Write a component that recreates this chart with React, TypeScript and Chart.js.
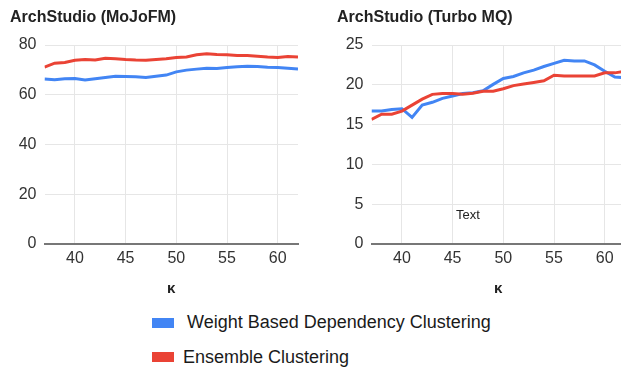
import React, { useEffect, useRef } from "react";
import { Chart, registerables } from "chart.js";

Chart.register(...registerables);

// ---- data ----
const kValues = [37, 38, 39, 40, 41, 42, 43, 44, 45, 46, 47, 48, 49, 50, 51, 52, 53, 54, 55, 56, 57, 58, 59, 60, 61, 62];
const xTickValues = [40, 45, 50, 55, 60];

const mojoWeight = [66.3, 66.0, 66.4, 66.5, 65.9, 66.4, 66.9, 67.4, 67.3, 67.2, 66.9, 67.4, 67.9, 69.2, 69.9, 70.3, 70.7, 70.6, 71.0, 71.3, 71.5, 71.4, 71.1, 71.0, 70.7, 70.4];
const mojoEnsemble = [71.1, 72.7, 73.0, 73.9, 74.2, 74.0, 74.7, 74.5, 74.2, 74.0, 73.9, 74.2, 74.5, 75.0, 75.2, 76.1, 76.5, 76.2, 76.1, 75.8, 75.8, 75.5, 75.2, 75.0, 75.4, 75.2];

const turboWeight = [16.7, 16.7, 16.9, 17.0, 15.9, 17.45, 17.8, 18.3, 18.6, 18.9, 19.0, 19.25, 20.05, 20.8, 21.05, 21.5, 21.85, 22.3, 22.7, 23.07, 23.0, 23.0, 22.5, 21.7, 20.97, 20.9];
const turboEnsemble = [15.65, 16.3, 16.3, 16.7, 17.45, 18.2, 18.8, 18.9, 18.9, 18.8, 18.95, 19.2, 19.2, 19.5, 19.9, 20.1, 20.3, 20.5, 21.2, 21.1, 21.1, 21.1, 21.1, 21.5, 21.5, 21.7];

const seriesNames = ["Weight Based Dependency Clustering", "Ensemble Clustering"];
const BLUE = "#4285f4";
const RED = "#ea4335";
const FONT = "Arial, 'Liberation Sans', sans-serif";

const textNotePlugin = {
  id: "textNote",
  afterDatasetsDraw(chart: any, _args: any, opts: any) {
    if (!opts || !opts.text) return;
    const { ctx } = chart;
    const x = chart.scales.x.getPixelForValue(opts.x);
    const y = chart.scales.y.getPixelForValue(opts.y);
    ctx.save();
    ctx.font = `13px ${FONT}`;
    ctx.fillStyle = "#222";
    ctx.textAlign = "center";
    ctx.textBaseline = "middle";
    ctx.fillText(opts.text, x, y);
    ctx.restore();
  },
};

function makeConfig(title: string, blue: number[], red: number[], yMax: number, yStep: number, note?: any): any {
  const toPts = (arr: number[]) => kValues.map((k, i) => ({ x: k, y: arr[i] }));
  return {
    type: "line",
    data: {
      datasets: [
        { label: seriesNames[0], data: toPts(blue), borderColor: BLUE, backgroundColor: BLUE, borderWidth: 3, pointRadius: 0, tension: 0, order: 1 },
        { label: seriesNames[1], data: toPts(red), borderColor: RED, backgroundColor: RED, borderWidth: 3, pointRadius: 0, tension: 0, order: 0 },
      ],
    },
    plugins: [textNotePlugin],
    options: {
      responsive: false,
      animation: false,
      layout: { padding: { left: 10, right: 2, top: 0, bottom: 0 } },
      plugins: {
        legend: { display: false },
        tooltip: { enabled: false },
        title: {
          display: true,
          text: title,
          align: "start",
          color: "#222",
          font: { family: FONT, size: 16, weight: "bold" },
          padding: { top: 8.4, bottom: 17.4 },
        },
        textNote: note || {},
      },
      scales: {
        x: {
          type: "linear",
          min: 37,
          max: 62,
          afterBuildTicks: (s: any) => {
            s.ticks = xTickValues.map((v) => ({ value: v }));
          },
          afterFit: (s: any) => {
            s.height = 56;
          },
          ticks: { color: "#333", font: { family: FONT, size: 16 }, padding: 5 },
          grid: { color: "#e6e6e6", drawTicks: false, lineWidth: 1 },
          border: { display: true, color: "#777", width: 2 },
          title: {
            display: true,
            text: "κ",
            color: "#222",
            font: { family: FONT, size: 15, weight: "bold" },
            padding: { top: 0, bottom: 2 },
          },
        },
        y: {
          type: "linear",
          min: 0,
          max: yMax,
          afterFit: (s: any) => {
            s.width = 34.5;
          },
          ticks: { stepSize: yStep, color: "#333", font: { family: FONT, size: 16 }, padding: 8 },
          grid: { color: "#e6e6e6", drawTicks: false, lineWidth: 1 },
          border: { display: false },
        },
      },
    },
  };
}

function ChartBox(props: { config: any; left: number }) {
  const ref = useRef<HTMLCanvasElement | null>(null);
  useEffect(() => {
    if (!ref.current) return;
    const chart = new Chart(ref.current, props.config);
    return () => chart.destroy();
  }, []);
  return (
    <canvas
      ref={ref}
      width={300}
      height={300}
      style={{ position: "absolute", left: props.left, top: 0, width: 300, height: 300 }}
    />
  );
}

export default function App() {
  useEffect(() => {
    document.body.style.margin = "0";
  }, []);
  const leftCfg = makeConfig("ArchStudio (MoJoFM)", mojoWeight, mojoEnsemble, 80, 20);
  const rightCfg = makeConfig("ArchStudio (Turbo MQ)", turboWeight, turboEnsemble, 25, 5, { text: "Text", x: 46.5, y: 3.6 });
  const legendText: React.CSSProperties = {
    position: "absolute",
    fontFamily: FONT,
    fontSize: 18,
    lineHeight: "20px",
    color: "#1a1a1a",
    whiteSpace: "nowrap",
  };
  return (
    <div style={{ position: "relative", width: 621, height: 368, overflow: "hidden", background: "#fff" }}>
      <ChartBox config={leftCfg} left={0} />
      <ChartBox config={rightCfg} left={327} />
      <div style={{ position: "absolute", left: 152, top: 318, width: 22, height: 10, background: BLUE }} />
      <div style={{ ...legendText, left: 187, top: 312 }}>{seriesNames[0]}</div>
      <div style={{ position: "absolute", left: 152, top: 352, width: 22, height: 10, background: RED }} />
      <div style={{ ...legendText, left: 183, top: 347 }}>{seriesNames[1]}</div>
    </div>
  );
}
